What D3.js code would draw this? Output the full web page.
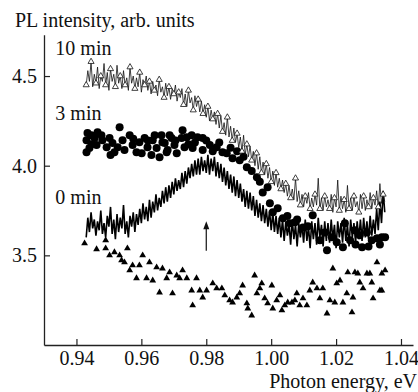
<!DOCTYPE html>
<html>
<head>
<meta charset="utf-8">
<script src="https://cdn.jsdelivr.net/npm/d3@7"></script>
<style>
  body{margin:0;background:#fff;}
  text{font-family:"Liberation Serif","Times New Roman",serif;fill:#111;}
</style>
</head>
<body>
<svg class="chart"></svg>
<script>
// both scans were recorded on the same grid: 0.943 ... 1.035 eV, step 0.5 meV
const scanStart = 0.943, scanStep = 0.0005
const pl0min = [3.60,3.71,3.63,3.74,3.65,3.70,3.61,3.69,3.64,3.75, 3.62,3.68,3.60,3.72,3.66,3.77,3.62,3.70,3.59,3.73,
  3.63,3.71,3.65,3.78,3.62,3.69,3.60,3.72,3.66,3.74, 3.63,3.73,3.67,3.76,3.68,3.79,3.70,3.77,3.69,3.81,
  3.71,3.80,3.74,3.84,3.75,3.82,3.77,3.86,3.79,3.88, 3.80,3.89,3.82,3.91,3.84,3.93,3.86,3.92,3.87,3.96,
  3.88,3.97,3.90,3.99,3.93,4.01,3.94,4.03,3.95,4.04, 3.95,4.05,3.97,4.03,3.96,4.06,3.95,4.04,3.97,4.05,
  3.94,4.02,3.93,4.01,3.91,3.99,3.89,3.97,3.87,3.95, 3.85,3.94,3.83,3.92,3.82,3.90,3.80,3.87,3.77,3.86,
  3.76,3.85,3.75,3.83,3.72,3.81,3.71,3.79,3.69,3.78, 3.68,3.76,3.66,3.75,3.64,3.74,3.63,3.72,3.62,3.71,
  3.60,3.70,3.58,3.69,3.61,3.68,3.56,3.70,3.59,3.67, 3.55,3.68,3.60,3.67,3.57,3.70,3.58,3.66,3.54,3.69,
  3.59,3.68,3.56,3.71,3.60,3.67,3.55,3.69,3.58,3.68, 3.57,3.70,3.59,3.67,3.54,3.69,3.60,3.68,3.57,3.71,
  3.58,3.67,3.55,3.70,3.60,3.68,3.57,3.69,3.59,3.70, 3.58,3.71,3.60,3.69,3.59,3.72,3.61,3.70,3.62,3.76,
  3.64,3.80,3.68,3.86,3.74]
const pl10min = [4.45,4.53,4.47,4.58,4.44,4.51,4.46,4.55,4.43,4.50, 4.47,4.57,4.45,4.52,4.42,4.54,4.47,4.51,4.44,4.56,
  4.46,4.50,4.43,4.53,4.45,4.49,4.42,4.55,4.46,4.50, 4.43,4.49,4.44,4.52,4.41,4.48,4.45,4.50,4.42,4.47,
  4.40,4.47,4.42,4.45,4.39,4.48,4.41,4.44,4.38,4.46, 4.39,4.44,4.37,4.43,4.40,4.45,4.36,4.41,4.38,4.43,
  4.34,4.40,4.33,4.42,4.35,4.38,4.31,4.39,4.33,4.37, 4.30,4.36,4.29,4.34,4.27,4.33,4.25,4.31,4.26,4.30,
  4.23,4.29,4.21,4.28,4.19,4.24,4.17,4.27,4.16,4.22, 4.14,4.21,4.13,4.18,4.10,4.16,4.08,4.17,4.06,4.12,
  4.05,4.11,4.03,4.08,4.00,4.07,3.98,4.05,3.96,4.02, 3.95,4.01,3.93,3.99,3.91,3.97,3.89,3.96,3.88,3.93,
  3.87,3.92,3.85,3.90,3.83,3.89,3.82,3.87,3.81,3.93, 3.80,3.86,3.78,3.84,3.77,3.83,3.79,3.85,3.76,3.82,
  3.77,3.84,3.78,3.93,3.76,3.82,3.75,3.83,3.77,3.81, 3.76,3.84,3.74,3.82,3.77,3.92,3.75,3.83,3.76,3.81,
  3.74,3.89,3.76,3.82,3.75,3.83,3.77,3.80,3.74,3.84, 3.76,3.83,3.75,3.81,3.77,3.85,3.76,3.82,3.78,3.86,
  3.77,3.90,3.79,3.84,3.80]
// 3 min, filled circles
const circE = [0.9434,0.9431,0.9446,0.9456,0.9465,0.9477,0.9462,0.9440,0.9431,0.9480,0.9493,0.9502,0.9511,0.9517,0.9527,0.9533,0.9542,0.9548,0.9564,0.9573,
  0.9585,0.9594,0.9601,0.9610,0.9619,0.9631,0.9635,0.9647,0.9656,0.9662,0.9672,0.9681,0.9693,0.9702,0.9709,0.9724,0.9733,0.9641,0.9665,0.9687,
  0.9727,0.9740,0.9755,0.9773,0.9789,0.9678,0.9758,0.9789,0.9811,0.9832,0.9850,0.9863,0.9881,0.9903,0.9925,0.9956,0.9974,0.9989,0.9996,1.0020,
  1.0005,1.0036,1.0057,1.0073,1.0098,1.0113,1.0128,1.0150,1.0165,1.0172,1.0187,1.0202,1.0221,1.0227,1.0243,1.0258,1.0273,1.0280,1.0295,1.0310,
  1.0326,1.0341,1.0351,0.9447,0.9505,0.9575,0.9620,0.9705,0.9745,0.9765,0.9800,0.9820,0.9840,0.9875,0.9895,0.9915,0.9940,0.9965,1.0050,1.0080,
  1.0260,1.0300,1.0335]
const circV = [4.182,4.142,4.170,4.154,4.187,4.170,4.115,4.098,4.075,4.142,4.103,4.154,4.126,4.075,4.103,4.215,4.142,4.087,4.170,4.115,
  4.075,4.131,4.070,4.154,4.103,4.059,4.142,4.098,4.047,4.170,4.126,4.087,4.154,4.115,4.070,4.154,4.103,4.170,4.131,4.170,
  4.198,4.159,4.170,4.159,4.154,4.075,4.098,4.087,4.115,4.103,4.075,4.070,4.042,4.030,3.992,3.936,3.850,3.880,3.791,3.763,
  3.740,3.707,3.679,3.684,3.656,3.662,3.723,3.584,3.628,3.528,3.601,3.573,3.545,3.679,3.584,3.640,3.612,3.545,3.628,3.584,
  3.595,3.601,3.601,4.120,4.060,4.150,4.140,4.140,4.120,4.130,4.140,4.080,4.130,4.100,4.080,4.050,3.970,3.910,3.720,3.700,
  3.560,3.550,3.560]
// lowest spectrum, filled triangles
const triE = [0.9425,0.9462,0.9490,0.9490,0.9502,0.9517,0.9533,0.9539,0.9548,0.9557,0.9564,0.9573,0.9585,0.9594,0.9604,0.9616,0.9625,0.9635,0.9647,0.9656,
  0.9665,0.9678,0.9687,0.9696,0.9709,0.9718,0.9727,0.9740,0.9755,0.9758,0.9770,0.9780,0.9789,0.9801,0.9820,0.9832,0.9848,0.9857,0.9872,0.9881,
  0.9894,0.9903,0.9912,0.9925,0.9928,0.9940,0.9949,0.9956,0.9965,0.9971,0.9980,0.9989,1.0002,1.0005,1.0017,1.0027,1.0033,1.0042,1.0051,1.0064,
  1.0073,1.0079,1.0088,1.0098,1.0110,1.0119,1.0128,1.0141,1.0150,1.0159,1.0172,1.0181,1.0190,1.0196,1.0202,1.0212,1.0221,1.0233,1.0236,1.0249,
  1.0252,1.0258,1.0267,1.0273,1.0283,1.0295,1.0304,1.0310,1.0314,1.0326,1.0335,1.0341,1.0341,1.0351]
const triV = [3.567,3.534,3.584,3.539,3.500,3.517,3.500,3.472,3.461,3.539,3.416,3.444,3.372,3.444,3.500,3.372,3.461,3.360,3.433,3.293,
  3.427,3.372,3.405,3.288,3.388,3.372,3.416,3.372,3.304,3.221,3.372,3.304,3.265,3.304,3.344,3.316,3.316,3.277,3.249,3.237,
  3.265,3.288,3.332,3.232,3.204,3.165,3.388,3.288,3.316,3.344,3.260,3.232,3.332,3.204,3.249,3.277,3.193,3.221,3.237,3.237,
  3.249,3.288,3.221,3.260,3.221,3.304,3.349,3.316,3.260,3.316,3.176,3.249,3.427,3.237,3.344,3.360,3.237,3.288,3.405,3.182,
  3.265,3.405,3.399,3.349,3.316,3.399,3.399,3.349,3.260,3.461,3.304,3.399,3.304,3.416]
const xTicks = [0.94,0.96,0.98,1.00,1.02,1.04]
const yTicks = [3.5,4.0,4.5]
const seriesLabels = [{t:"10 min",e:0.9335,v:4.62},{t:"3 min",e:0.9335,v:4.255},{t:"0 min",e:0.9335,v:3.785}]
const arrowE = 0.98, arrowFrom = 3.525, arrowTo = 3.69

const width = 418, height = 392
const fs = 20

let svg = d3.select(".chart").attr("width", width).attr("height", height)

let x = d3.scaleLinear().domain([0.93, 1.0437]).range([44, 413])
let y = d3.scaleLinear().domain([3.0, 4.73]).range([345, 34.8])
let scanX = i => x(scanStart + i*scanStep)

// axes, ticks pointing inward
svg.append("g").attr("transform","translate(0,345)")
  .call(d3.axisBottom(x).tickValues(xTicks).tickSizeInner(-6).tickSizeOuter(0).tickPadding(14).tickFormat(d3.format(".2f")))
  .call(g => g.select(".domain").attr("stroke","#222").attr("stroke-width",1.3))
  .call(g => g.selectAll(".tick line").attr("stroke","#222").attr("stroke-width",1.2))
  .call(g => g.selectAll(".tick text").style("font-size",fs+"px").attr("fill","#222").attr("dy","0.3em"))
svg.append("g").attr("transform","translate(44,0)")
  .call(d3.axisLeft(y).tickValues(yTicks).tickSizeInner(-6).tickSizeOuter(0).tickPadding(7).tickFormat(d3.format(".1f")))
  .call(g => g.select(".domain").attr("stroke","#222").attr("stroke-width",1.3))
  .call(g => g.selectAll(".tick line").attr("stroke","#222").attr("stroke-width",1.2))
  .call(g => g.selectAll(".tick text").style("font-size",fs+"px").attr("fill","#222"))

// axis titles
svg.append("text").attr("x",15).attr("y",27).style("font-size",fs+"px").text("PL intensity, arb. units")
svg.append("text").attr("x",417).attr("y",388).attr("text-anchor","end").style("font-size",fs+"px").text("Photon energy, eV")

let line = d3.line().x((d,i) => scanX(i)).y(d => y(d))

// 3 min
svg.append("g").selectAll("circle").data(circV).enter().append("circle")
  .attr("cx",(d,i) => x(circE[i])).attr("cy",d => y(d)).attr("r",4).attr("fill","#000")

// 0 min, dense noisy trace
svg.append("path").datum(pl0min).attr("d",line).attr("fill","none").attr("stroke","#000").attr("stroke-width",1.6)

// 10 min, thin line, open triangle on every third sample
svg.append("path").datum(pl10min).attr("d",line).attr("fill","none").attr("stroke","#111").attr("stroke-width",0.8)
let openTri = d3.symbol().type(d3.symbolTriangle).size(16)
svg.append("g").selectAll("path").data(pl10min.map((v,i) => [i,v]).filter(d => d[0]%3==0)).enter().append("path")
  .attr("d",openTri).attr("transform",d => "translate(" + scanX(d[0]) + "," + y(d[1]) + ")")
  .attr("fill","#fff").attr("stroke","#111").attr("stroke-width",0.8)

// lowest spectrum, filled triangles
let fillTri = d3.symbol().type(d3.symbolTriangle).size(20)
svg.append("g").selectAll("path").data(triV).enter().append("path")
  .attr("d",fillTri).attr("transform",(d,i) => "translate(" + x(triE[i]) + "," + y(d) + ")")
  .attr("fill","#000")

// series labels
svg.append("g").selectAll("text").data(seriesLabels).enter().append("text")
  .attr("x",d => x(d.e)).attr("y",d => y(d.v)).style("font-size",fs+"px").text(d => d.t)

// arrow at the peak position
svg.append("line").attr("x1",x(arrowE)).attr("x2",x(arrowE)).attr("y1",y(arrowFrom)).attr("y2",y(arrowTo)+4)
  .attr("stroke","#111").attr("stroke-width",1.2)
svg.append("path").attr("d","M"+x(arrowE)+","+y(arrowTo)+"l-3,8l6,0z").attr("fill","#111")
</script>
</body>
</html>
